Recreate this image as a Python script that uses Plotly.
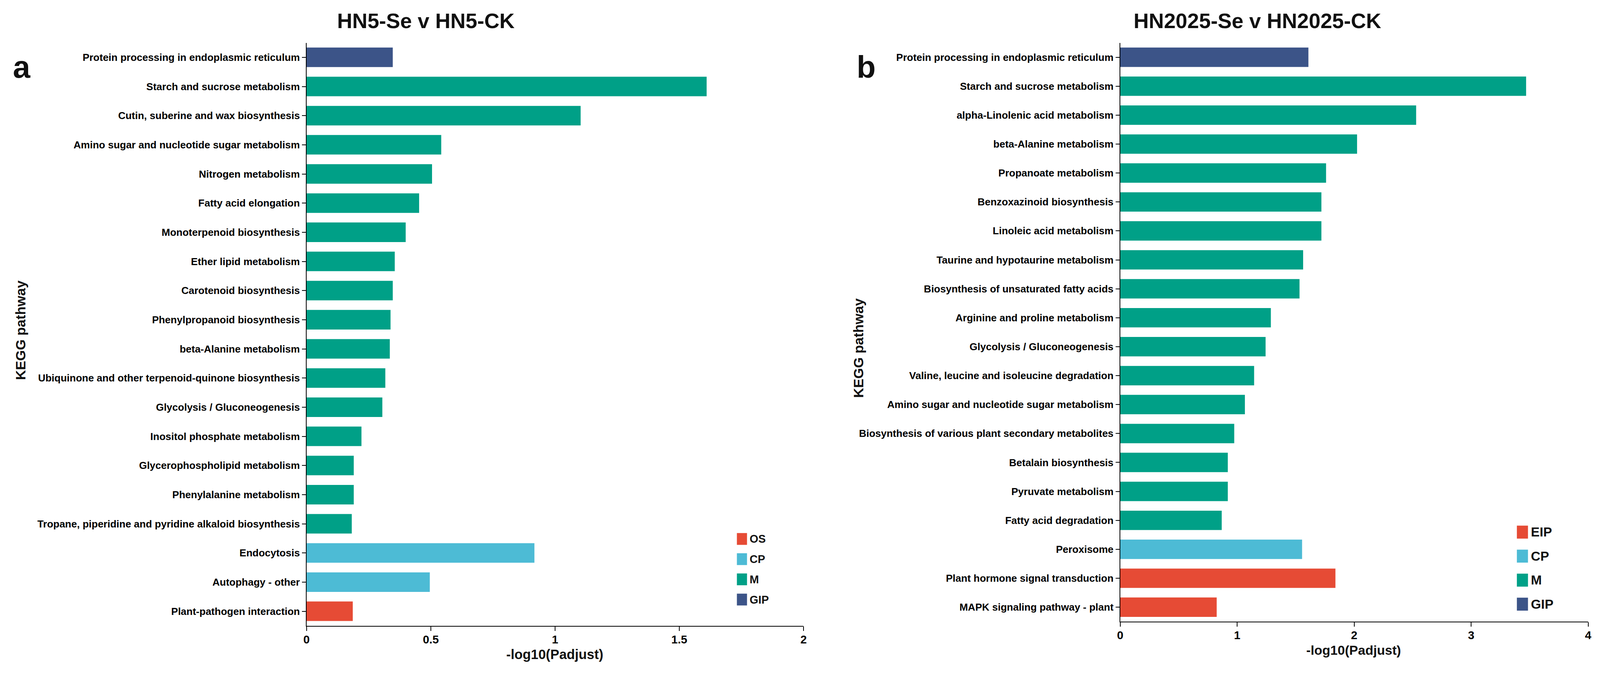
import plotly.graph_objects as go

# positions below are measured on the 4875x1757 reference and given to plotly as paper fractions;
# the page fills a viewport of about 4100x1720 css px, so sizes in px are scaled by SX
REF_W, REF_H = 4875, 1757
FIG_W, FIG_H = 4095, 1715
SX = FIG_W / REF_W
FONT = "Liberation Sans, Arial, sans-serif"

COLORS = {"OS": "#E64B35", "EIP": "#E64B35", "CP": "#4DBBD5", "M": "#00A087", "GIP": "#3C5488"}

# panel a: HN5-Se v HN5-CK (top to bottom)
left_paths = [
    "Protein processing in endoplasmic reticulum",
    "Starch and sucrose metabolism",
    "Cutin, suberine and wax biosynthesis",
    "Amino sugar and nucleotide sugar metabolism",
    "Nitrogen metabolism",
    "Fatty acid elongation",
    "Monoterpenoid biosynthesis",
    "Ether lipid metabolism",
    "Carotenoid biosynthesis",
    "Phenylpropanoid biosynthesis",
    "beta-Alanine metabolism",
    "Ubiquinone and other terpenoid-quinone biosynthesis",
    "Glycolysis / Gluconeogenesis",
    "Inositol phosphate metabolism",
    "Glycerophospholipid metabolism",
    "Phenylalanine metabolism",
    "Tropane, piperidine and pyridine alkaloid biosynthesis",
    "Endocytosis",
    "Autophagy - other",
    "Plant-pathogen interaction",
]
left_vals = [0.347, 1.61, 1.103, 0.542, 0.505, 0.453, 0.399, 0.355, 0.347, 0.338,
             0.335, 0.317, 0.305, 0.221, 0.19, 0.19, 0.182, 0.917, 0.496, 0.186]
left_class = ["GIP"] + ["M"] * 16 + ["CP", "CP", "OS"]
left_legend = ["OS", "CP", "M", "GIP"]

# panel b: HN2025-Se v HN2025-CK
right_paths = [
    "Protein processing in endoplasmic reticulum",
    "Starch and sucrose metabolism",
    "alpha-Linolenic acid metabolism",
    "beta-Alanine metabolism",
    "Propanoate metabolism",
    "Benzoxazinoid biosynthesis",
    "Linoleic acid metabolism",
    "Taurine and hypotaurine metabolism",
    "Biosynthesis of unsaturated fatty acids",
    "Arginine and proline metabolism",
    "Glycolysis / Gluconeogenesis",
    "Valine, leucine and isoleucine degradation",
    "Amino sugar and nucleotide sugar metabolism",
    "Biosynthesis of various plant secondary metabolites",
    "Betalain biosynthesis",
    "Pyruvate metabolism",
    "Fatty acid degradation",
    "Peroxisome",
    "Plant hormone signal transduction",
    "MAPK signaling pathway - plant",
]
right_vals = [1.609, 3.47, 2.53, 2.025, 1.76, 1.72, 1.72, 1.564, 1.533, 1.288,
              1.243, 1.145, 1.066, 0.975, 0.92, 0.92, 0.868, 1.555, 1.84, 0.825]
right_class = ["GIP"] + ["M"] * 16 + ["CP", "EIP", "EIP"]
right_legend = ["EIP", "CP", "M", "GIP"]


def px(x):
    return x / REF_W


def py(y):
    return 1 - y / REF_H


def fs(size):
    return round(size * SX, 1)


fig = go.Figure()
fig.add_trace(go.Bar(x=left_vals, y=left_paths, orientation="h", width=0.67,
                     marker=dict(color=[COLORS[c] for c in left_class], line=dict(width=0)),
                     xaxis="x", yaxis="y"))
fig.add_trace(go.Bar(x=right_vals, y=right_paths, orientation="h", width=0.67,
                     marker=dict(color=[COLORS[c] for c in right_class], line=dict(width=0)),
                     xaxis="x2", yaxis="y2"))

line_style = dict(showline=True, linecolor="black", linewidth=1.8, ticks="outside",
                  tickwidth=1.8, tickcolor="black", showgrid=False, zeroline=False)
xfont = dict(family=FONT, size=fs(35), color="black", weight="bold")
yfont = dict(family=FONT, size=fs(31), color="black", weight="bold")

fig.update_layout(
    width=FIG_W, height=FIG_H, margin=dict(l=0, r=0, t=0, b=0),
    paper_bgcolor="white", plot_bgcolor="white", showlegend=False, barmode="overlay",
    xaxis=dict(domain=[px(919), px(2440)], range=[0, 2], tickvals=[0, 0.5, 1, 1.5, 2],
               ticktext=["0", "0.5", "1", "1.5", "2"], anchor="y", tickfont=xfont,
               ticklen=11, ticklabelstandoff=-3, **line_style),
    yaxis=dict(domain=[py(1634), py(104)], type="category", categoryorder="array",
               categoryarray=left_paths, range=[19.5, -0.5], anchor="x", tickfont=yfont,
               ticklen=10, **line_style),
    xaxis2=dict(domain=[px(3409), px(4841)], range=[0, 4], tickvals=[0, 1, 2, 3, 4],
                anchor="y2", tickfont=xfont, ticklen=11, ticklabelstandoff=-3, **line_style),
    yaxis2=dict(domain=[py(1623), py(104)], type="category", categoryorder="array",
                categoryarray=right_paths, range=[19.5, -0.5], anchor="x2", tickfont=yfont,
                ticklen=10, **line_style),
)


def note(text, x, y, size, xanchor="center", **kw):
    fig.add_annotation(text=text, x=px(x), y=py(y), xref="paper", yref="paper", showarrow=False,
                       xanchor=xanchor, yanchor="middle",
                       font=dict(family=FONT, size=fs(size), color="#111111", weight="bold"), **kw)


# titles, panel letters, axis titles
note("HN5-Se v HN5-CK", 1285, 46, 64)
note("HN2025-Se v HN2025-CK", 3829, 46, 64)
note("a", 18, 168, 95, xanchor="left")
note("b", 2600, 168, 95, xanchor="left")
note("KEGG pathway", 44, 858, 42, textangle=-90)
note("KEGG pathway", 2608, 905, 42, textangle=-90)
note("-log10(Padjust)", 1678, 1709, 41)
note("-log10(Padjust)", 4124, 1698, 40)


# legends drawn by hand so the keys can be as large as in the reference
def legend(items, x0, y0, step, box, size):
    for i, name in enumerate(items):
        yc = y0 + i * step
        fig.add_shape(type="rect", xref="paper", yref="paper", x0=px(x0), x1=px(x0 + box),
                      y0=py(yc - box / 2), y1=py(yc + box / 2),
                      fillcolor=COLORS[name], line=dict(width=0))
        note(name, x0 + box + 6, yc, size, xanchor="left")


legend(left_legend, 2236, 1406, 53, 31, 34)
legend(right_legend, 4623, 1388, 63, 34, 40)

fig.write_html("out.html")
